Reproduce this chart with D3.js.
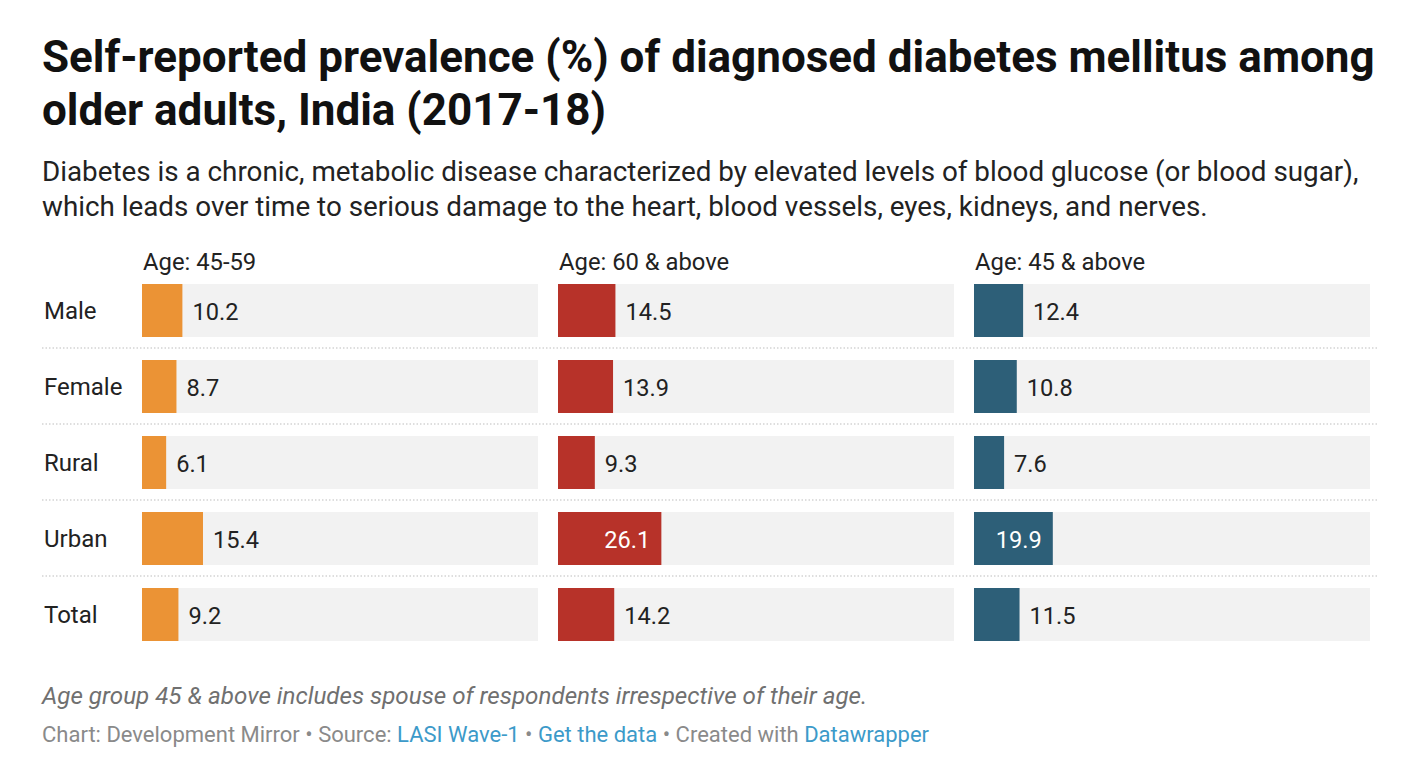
<!DOCTYPE html>
<html>
<head>
<meta charset="utf-8">
<script src="https://cdn.jsdelivr.net/npm/d3@7"></script>
<style>
  body { margin: 0; background: #fff; font-family: Roboto, "Noto Sans", sans-serif; }
  svg text { font-family: Roboto, "Noto Sans", sans-serif; }
</style>
</head>
<body>
<svg id="chart" width="1416" height="765"></svg>
<script>
// data
var categories = ["Male", "Female", "Rural", "Urban", "Total"];
var groups = ["Age: 45-59", "Age: 60 & above", "Age: 45 & above"];
var age45to59 = [10.2, 8.7, 6.1, 15.4, 9.2];
var age60plus = [14.5, 13.9, 9.3, 26.1, 14.2];
var age45plus = [12.4, 10.8, 7.6, 19.9, 11.5];
var colors = ["#eb9335", "#b73229", "#2d5f78"];

var series = [age45to59, age60plus, age45plus];

var svg = d3.select("#chart");

// title + description
var title = svg.append("text").attr("fill", "#111")
  .style("font-size", "44px").style("font-weight", 700);
title.append("tspan").attr("x", 42).attr("y", 72).text("Self-reported prevalence (%) of diagnosed diabetes mellitus among");
title.append("tspan").attr("x", 42).attr("y", 125).text("older adults, India (2017-18)");

var desc = svg.append("text").attr("fill", "#222").style("font-size", "27.8px");
desc.append("tspan").attr("x", 42).attr("y", 181).text("Diabetes is a chronic, metabolic disease characterized by elevated levels of blood glucose (or blood sugar),");
desc.append("tspan").attr("x", 42).attr("y", 216).text("which leads over time to serious damage to the heart, blood vessels, eyes, kidneys, and nerves.");

// layout
var panelX0 = 142, panelW = 396, panelGap = 20;
var rowTop = 284, rowStep = 76, barH = 53;

var x = d3.scaleLinear().domain([0, 100]).range([0, panelW]);
var y = d3.scaleBand().domain(categories)
  .range([rowTop, rowTop + rowStep * (categories.length - 1) + barH])
  .paddingInner(1 - barH / rowStep).paddingOuter(0);

// row labels
svg.selectAll(".rowlabel").data(categories).enter().append("text")
  .attr("class", "rowlabel")
  .attr("x", 44)
  .attr("y", function(d) { return y(d) + barH / 2 + 8; })
  .attr("fill", "#222")
  .style("font-size", "24px")
  .text(function(d) { return d; });

// separators
svg.selectAll(".sep").data(categories.slice(1)).enter().append("line")
  .attr("x1", 42).attr("x2", 1378)
  .attr("y1", function(d) { return y(d) - 12; })
  .attr("y2", function(d) { return y(d) - 12; })
  .attr("stroke", "#d4d4d4").attr("stroke-width", 1.5)
  .attr("stroke-dasharray", "1.5,2");

groups.forEach(function(g, gi) {
  var px = panelX0 + gi * (panelW + panelGap);
  var panel = svg.append("g").attr("transform", "translate(" + px + ",0)");

  panel.append("text").attr("x", 1).attr("y", 270)
    .attr("fill", "#222").style("font-size", "23.8px").text(g);

  var rows = panel.selectAll(".row").data(series[gi]).enter().append("g");

  rows.append("rect")
    .attr("x", 0).attr("y", function(d, i) { return y(categories[i]); })
    .attr("width", panelW).attr("height", y.bandwidth())
    .attr("fill", "#f2f2f2");

  rows.append("rect")
    .attr("x", 0).attr("y", function(d, i) { return y(categories[i]); })
    .attr("width", function(d) { return x(d); }).attr("height", y.bandwidth())
    .attr("fill", colors[gi]);

  rows.append("text")
    .attr("x", function(d) { return d > 18 ? x(d) - 11 : x(d) + 10; })
    .attr("y", function(d, i) { return y(categories[i]) + barH / 2 + 9; })
    .attr("text-anchor", function(d) { return d > 18 ? "end" : "start"; })
    .attr("fill", function(d) { return d > 18 ? "#fff" : "#222"; })
    .style("font-size", "23.6px")
    .text(function(d) { return d.toFixed(1); });
});

// notes
svg.append("text").attr("x", 42).attr("y", 704)
  .attr("fill", "#707070").style("font-size", "24.2px").style("font-style", "italic")
  .text("Age group 45 & above includes spouse of respondents irrespective of their age.");

var foot = svg.append("text").attr("x", 42).attr("y", 742)
  .attr("fill", "#8a8a8a").style("font-size", "22px");
foot.append("tspan").text("Chart: Development Mirror • Source: ");
foot.append("tspan").attr("fill", "#3c9ac9").text("LASI Wave-1");
foot.append("tspan").text(" • ");
foot.append("tspan").attr("fill", "#3c9ac9").text("Get the data");
foot.append("tspan").text(" • Created with ");
foot.append("tspan").attr("fill", "#3c9ac9").text("Datawrapper");
</script>
</body>
</html>
